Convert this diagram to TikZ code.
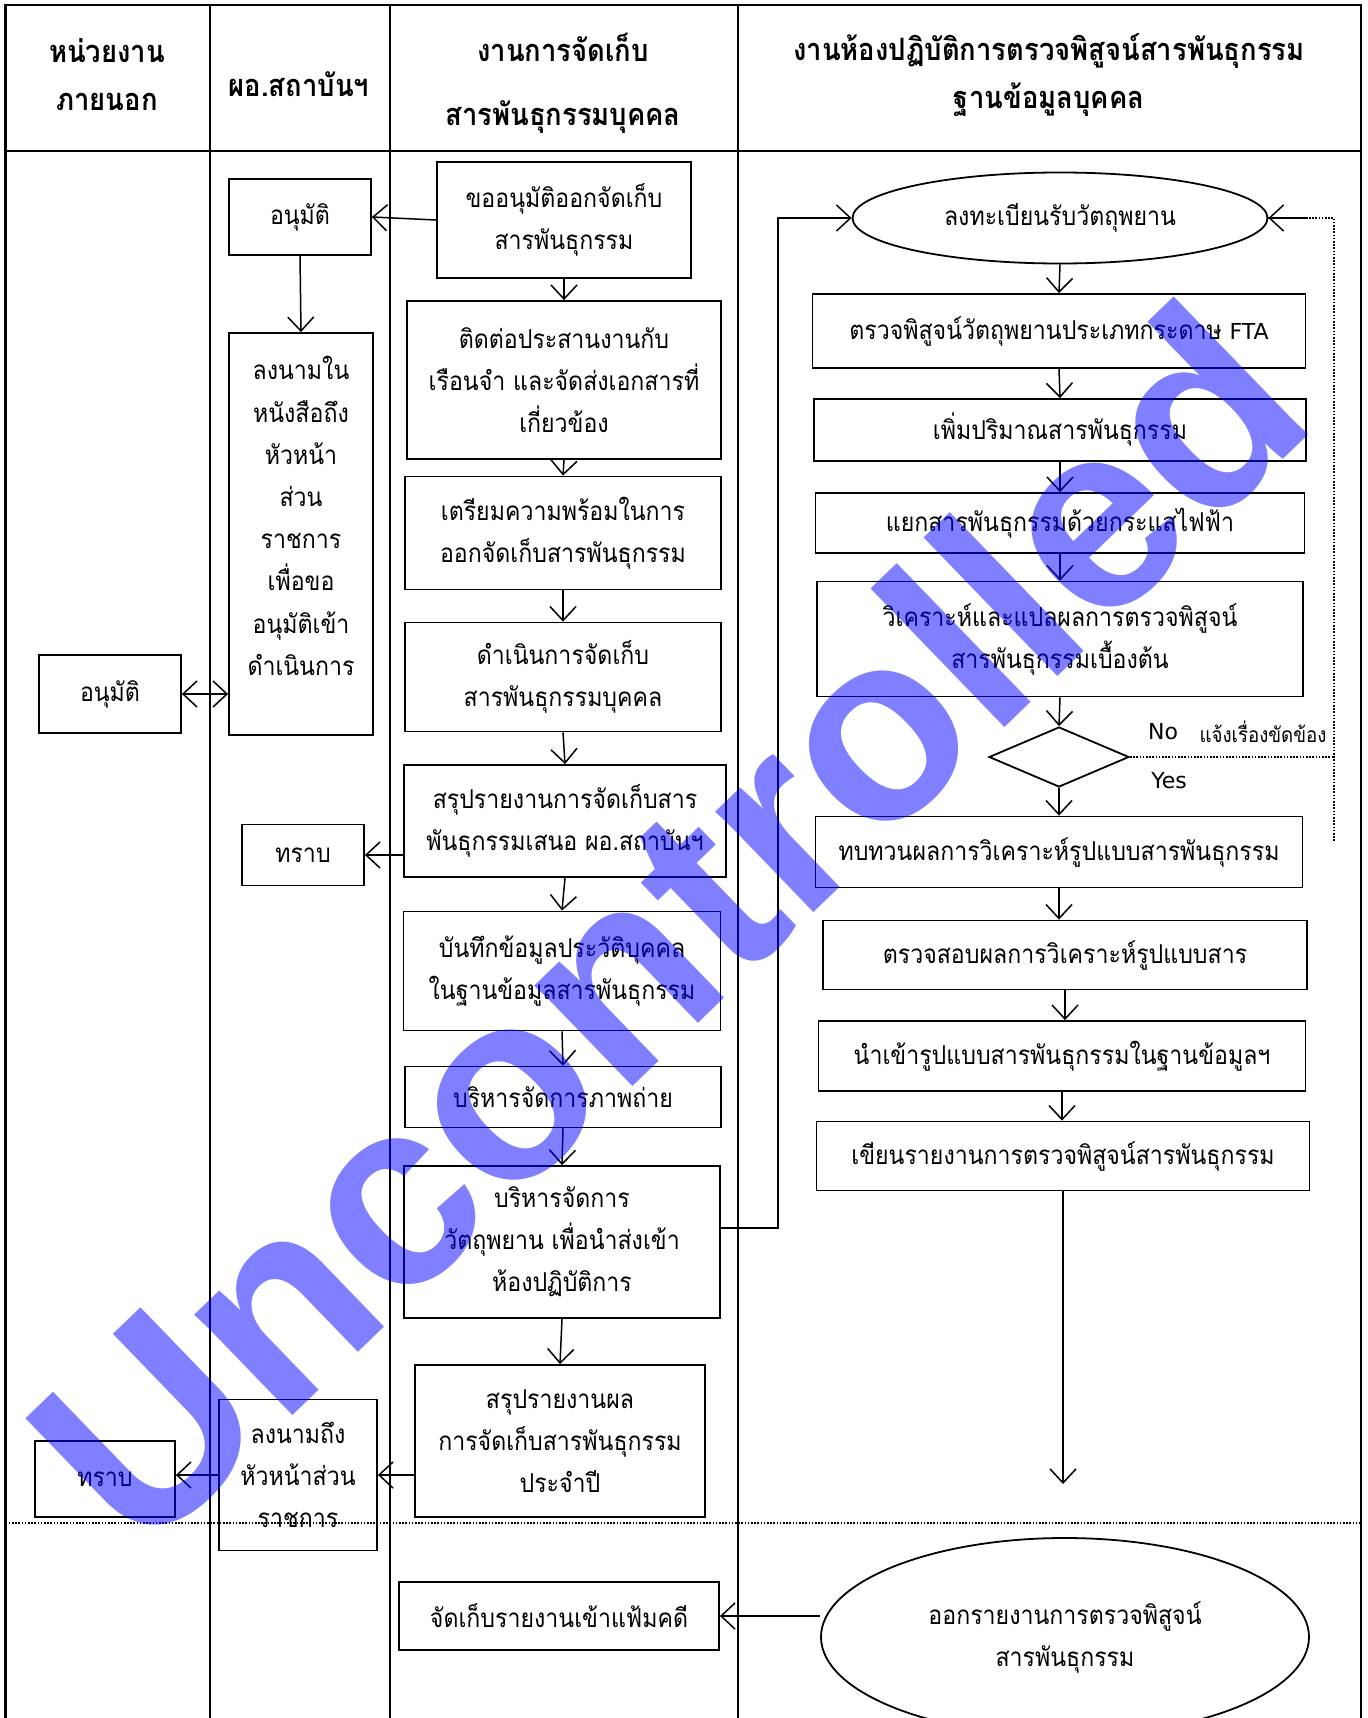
\documentclass[tikz,border=0pt]{standalone}
\usepackage{fontspec}
\setmainfont{Loma}[Script=Thai, FakeStretch=0.89]
\newfontfamily\latinfont{DejaVu Sans}
\newfontfamily\wmfont{Liberation Sans}
\usetikzlibrary{arrows.meta,shapes.geometric,calc}
\begin{document}
\begin{tikzpicture}[x=0.5pt,y=-0.5pt,
  frame/.style={line width=1.2pt},
  box/.style={draw, line width=0.9pt, inner sep=0pt, align=center, font=\fontsize{13}{21}\selectfont},
  txt/.style={inner sep=0pt, align=center, font=\fontsize{13}{21.1}\selectfont},
  hdr/.style={inner sep=0pt, align=center, font=\fontsize{15.4}{24}\selectfont\bfseries},
  oval/.style={draw, ellipse, line width=0.9pt, inner sep=0pt, align=center, font=\fontsize{13}{21}\selectfont},
  dia/.style={draw, diamond, line width=0.9pt, inner sep=0pt},
  arr/.style={-{Straight Barb[length=7pt,width=13pt]}, line width=0.75pt},
  darr/.style={{Straight Barb[length=7pt,width=13pt]}-{Straight Barb[length=7pt,width=13pt]}, line width=0.75pt},
  dot/.style={line width=0.7pt, dash pattern=on 0.8pt off 0.8pt},
  lbl/.style={inner sep=0pt, font=\latinfont\fontsize{11}{13}\selectfont},
  small/.style={inner sep=0pt, font=\fontsize{10.5}{12}\selectfont},
  wm/.style={inner sep=0pt, text=blue, text opacity=0.5, font=\wmfont\bfseries\fontsize{133}{133}\selectfont}
]
\useasboundingbox (0,0) rectangle (1368,1718);
\fill[white] (0,0) rectangle (1368,1718);

% swimlane frame
\draw[frame] (5.5,1718) -- (5.5,5) -- (1361,5) -- (1361,1718);
\draw[frame] (5.5,151) -- (1361,151);
\draw[frame] (210,5) -- (210,1718);
\draw[frame] (390,5) -- (390,1718);
\draw[frame] (738,5) -- (738,1718);
\draw[dot] (5.5,1523) -- (1361,1523);

% headers
\node[hdr] (H1) at (107,75) {หน่วยงาน\\ภายนอก};
\node[hdr] (H2) at (299,84) {ผอ.สถาบันฯ};
\node[hdr, font=\fontsize{15.4}{32}\selectfont\bfseries] (H3) at (563,83) {งานการจัดเก็บ\\สารพันธุกรรมบุคคล};
\node[hdr] (H4) at (1049,75) {งานห้องปฏิบัติการตรวจพิสูจน์สารพันธุกรรม\\ฐานข้อมูลบุคคล};

% column 1
\node[box, minimum width=71pt, minimum height=39pt] (A1) at (110,694) {อนุมัติ};
\node[box, minimum width=70pt, minimum height=38pt] (T1) at (105,1479) {ทราบ};

% column 2
\node[box, minimum width=71pt, minimum height=38pt] (A2) at (300,217) {อนุมัติ};
\node[box, minimum width=72pt, minimum height=201pt] (B2) at (301,534) {};
\node[txt] (B2t) at (301,516) {ลงนามใน\\หนังสือถึง\\หัวหน้า\\ส่วน\\ราชการ\\เพื่อขอ\\อนุมัติเข้า\\ดำเนินการ};
\node[box, minimum width=61pt, minimum height=30.5pt] (T2) at (303,855) {ทราบ};
\node[box, minimum width=79pt, minimum height=75.5pt] (L2) at (298,1475) {ลงนามถึง\\หัวหน้าส่วน\\ราชการ};

% column 3
\node[box, minimum width=127pt, minimum height=58pt] (C1) at (564,220) {ขออนุมัติออกจัดเก็บ\\สารพันธุกรรม};
\node[box, minimum width=157pt, minimum height=79pt] (C2) at (564,380) {ติดต่อประสานงานกับ\\เรือนจำ และจัดส่งเอกสารที่\\เกี่ยวข้อง};
\node[box, minimum width=158pt, minimum height=56.5pt] (C3) at (563,533) {เตรียมความพร้อมในการ\\ออกจัดเก็บสารพันธุกรรม};
\node[box, minimum width=158pt, minimum height=54.5pt] (C4) at (563,677) {ดำเนินการจัดเก็บ\\สารพันธุกรรมบุคคล};
\node[box, minimum width=161pt, minimum height=56pt] (C5) at (565,821) {สรุปรายงานการจัดเก็บสาร\\พันธุกรรมเสนอ ผอ.สถาบันฯ};
\node[box, minimum width=158.5pt, minimum height=59.5pt] (C6) at (562,971) {บันทึกข้อมูลประวัติบุคคล\\ในฐานข้อมูลสารพันธุกรรม};
\node[box, minimum width=158pt, minimum height=30.5pt] (C7) at (563,1097) {บริหารจัดการภาพถ่าย};
\node[box, minimum width=158pt, minimum height=76pt] (C8) at (562,1242) {บริหารจัดการ\\วัตถุพยาน เพื่อนำส่งเข้า\\ห้องปฏิบัติการ};
\node[box, minimum width=145pt, minimum height=76pt] (C9) at (560,1441) {สรุปรายงานผล\\การจัดเก็บสารพันธุกรรม\\ประจำปี};
\node[box, minimum width=160pt, minimum height=34pt] (C10) at (559,1616) {จัดเก็บรายงานเข้าแฟ้มคดี};

% column 4
\node[oval, minimum width=207.5pt, minimum height=45.5pt] (E1) at (1060,218) {ลงทะเบียนรับวัตถุพยาน};
\node[box, minimum width=246.5pt, minimum height=37pt] (D1) at (1059,331) {ตรวจพิสูจน์วัตถุพยานประเภทกระดาษ {\latinfont\fontsize{11}{13}\selectfont FTA}};
\node[box, minimum width=246pt, minimum height=31pt] (D2) at (1060,430) {เพิ่มปริมาณสารพันธุกรรม};
\node[box, minimum width=244.5pt, minimum height=30pt] (D3) at (1060,523) {แยกสารพันธุกรรมด้วยกระแสไฟฟ้า};
\node[box, minimum width=243pt, minimum height=57.5pt] (D4) at (1060,639) {วิเคราะห์และแปลผลการตรวจพิสูจน์\\สารพันธุกรรมเบื้องต้น};
\node[dia, minimum width=70pt, minimum height=30pt] (Dia) at (1059,757) {};
\node[box, minimum width=243.5pt, minimum height=35.5pt] (D5) at (1059,852) {ทบทวนผลการวิเคราะห์รูปแบบสารพันธุกรรม};
\node[box, minimum width=242pt, minimum height=34.5pt] (D6) at (1065,955) {ตรวจสอบผลการวิเคราะห์รูปแบบสาร};
\node[box, minimum width=243.5pt, minimum height=35pt] (D7) at (1062,1056) {นำเข้ารูปแบบสารพันธุกรรมในฐานข้อมูลฯ};
\node[box, minimum width=246.5pt, minimum height=34.5pt] (D8) at (1063,1156) {เขียนรายงานการตรวจพิสูจน์สารพันธุกรรม};
\node[oval, minimum width=244pt, minimum height=99pt] (E2) at (1065,1637) {ออกรายงานการตรวจพิสูจน์\\สารพันธุกรรม};

\node[lbl] (No) at (1163,732) {No};
\node[small] (Note) at (1263,732) {แจ้งเรื่องขัดข้อง};
\node[lbl] (Yes) at (1169,781) {Yes};

\coordinate (R) at (778,0);
\coordinate (FB) at (1334,841);
\coordinate (End) at (1060,1484);
\coordinate (C8out) at ($(C8.east)+(0,-14)$);

% connectors
\draw[arr] (C1.west) -- (A2.east);
\draw[arr] (A2.south) -- (B2.north);
\draw[darr] (A1.east) -- (A1.east -| B2.west);
\draw[arr] (C1.south) -- (C2.north);
\draw[arr] (C2.south) -- (C3.north);
\draw[arr] (C3.south) -- (C4.north);
\draw[arr] (C4.south) -- (C5.north);
\draw[arr] (C5.west |- T2) -- (T2.east);
\draw[arr] (C5.south) -- (C6.north);
\draw[arr] (C6.south) -- (C7.north);
\draw[arr] (C7.south) -- (C8.north);
\draw[arr] (C8.south) -- (C9.north);
\draw[arr] (C9.west |- L2) -- (L2.east);
\draw[arr] (L2.west) -- (L2.west -| T1.east);
\draw[arr] (C8out) -- (C8out -| R) |- (E1.west);
\draw[arr] (E1.south) -- (D1.north);
\draw[arr] (D1.south) -- (D2.north);
\draw[arr] (D2.south) -- (D3.north);
\draw[arr] (D3.south) -- (D4.north);
\draw[arr] (D4.south) -- (Dia.north);
\draw[arr] (Dia.south) -- (D5.north);
\draw[arr] (D5.south) -- (D5.south |- D6.north);
\draw[arr] (D6.south) -- (D6.south |- D7.north);
\draw[arr] (D7.south) -- (D7.south |- D8.north);
\draw[arr] (D8.south) -- (D8.south |- End);
\draw[arr] (E2.west |- C10) -- (C10.east);
\draw[dot] (Dia.east) -- (Dia.east -| FB);
\draw[dot] (FB) |- (E1.east);
\draw[arr] ($(E1.east)+(40,0)$) -- (E1.east);

% watermark
\node[wm, anchor=base west, rotate=44] (WM) at (141,1562) {Uncontrolled};
\end{tikzpicture}
\end{document}
